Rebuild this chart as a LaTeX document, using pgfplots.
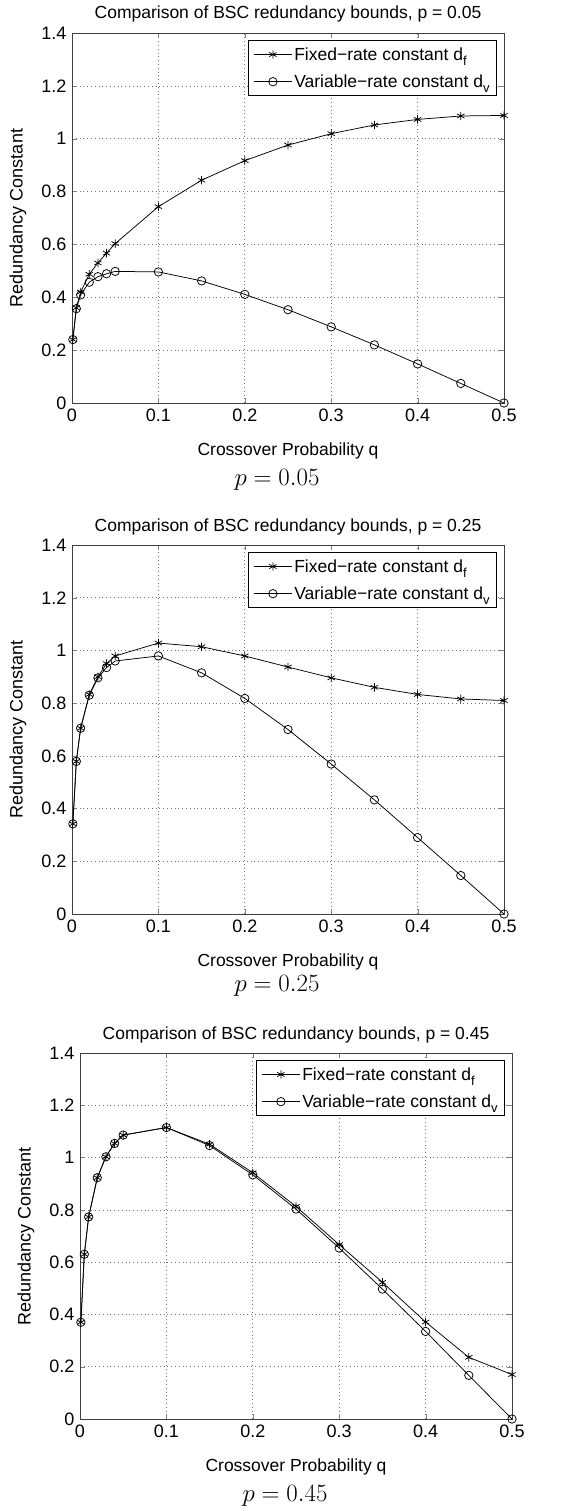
\documentclass[border=0pt]{standalone}
\usepackage{fontspec}
\setmainfont{Liberation Sans}
\usepackage{pgfplots}
\pgfplotsset{compat=1.18}

\newcommand{\fs}{\fontsize{17.5}{21}\selectfont}
\newcommand{\sub}[1]{\raisebox{-5pt}{\fontsize{13}{13}\selectfont #1}}

\pgfplotsset{
  bsc/.style={
    scale only axis, width=432pt,
    xmin=0, xmax=0.5, ymin=0, ymax=1.4,
    xtick={0,0.1,...,0.5}, ytick={0,0.2,...,1.4},
    /pgf/number format/assume math mode=true,
    /pgf/number format/fixed,
    tick label style={font=\fontsize{18}{21}\selectfont},
    yticklabel style={xshift=-2pt},
    xticklabel style={yshift=-2pt},
    tick align=inside, tick pos=both, major tick length=5pt,
    axis line style={black!75, line width=0.9pt},
    grid=major,
    major grid style={black!55, line width=0.7pt, dash pattern=on 0.8pt off 3pt},
    title style={font=\fs, at={(axis description cs:0.5,1)}, anchor=base, yshift=8pt},
    xlabel style={font=\fs, at={(axis description cs:0.5,0)}, anchor=base, yshift=-52pt},
    ylabel style={font=\fontsize{18}{21}\selectfont, at={(axis description cs:-0.125,0.5)}, anchor=center},
    xlabel={Crossover Probability q},
    ylabel={Redundancy Constant},
    legend style={at={(axis description cs:0.984,0.981)}, anchor=north east,
      font=\fs, draw=black, line width=0.8pt, inner xsep=5pt, inner ysep=5pt,
      row sep=9pt, cells={anchor=west}},
    legend image code/.code={\draw[mark repeat=2,mark phase=2,#1]
      plot coordinates {(0pt,0pt)(19pt,0pt)(38pt,0pt)};},
  },
  fixd/.style={black, line width=0.75pt, mark=asterisk, mark size=4.2pt, mark options={line width=0.75pt}},
  varr/.style={black, line width=0.75pt, mark=o, mark size=4.2pt, mark options={line width=0.75pt}},
}
\tikzset{captxt/.style={font=\fontsize{24}{28}\selectfont, anchor=base}}

\begin{document}
\begin{tikzpicture}
\useasboundingbox (0pt,0pt) rectangle (569pt,-1511pt);

% p = 0.05
\begin{axis}[bsc, height=370pt, at={(72pt,-403pt)}, anchor=south west,
  title={Comparison of BSC redundancy bounds, p = 0.05}]
\addplot[fixd] coordinates {(0.001,0.24) (0.005,0.36) (0.01,0.42) (0.02,0.487) (0.03,0.53)
  (0.04,0.567) (0.05,0.603) (0.1,0.743) (0.15,0.843) (0.2,0.917) (0.25,0.976)
  (0.3,1.019) (0.35,1.052) (0.4,1.073) (0.45,1.086) (0.5,1.088)};
\addplot[varr] coordinates {(0.001,0.24) (0.005,0.357) (0.01,0.409) (0.02,0.457) (0.03,0.478)
  (0.04,0.489) (0.05,0.498) (0.1,0.496) (0.15,0.462) (0.2,0.411) (0.25,0.353)
  (0.3,0.288) (0.35,0.22) (0.4,0.148) (0.45,0.074) (0.5,0)};
\legend{Fixed−rate constant d\sub{f}, Variable−rate constant d\sub{v}}
\end{axis}
\node[captxt] at (277pt,-485pt) {$p=0.05$};

% p = 0.25
\begin{axis}[bsc, height=369pt, at={(72pt,-914pt)}, anchor=south west,
  title={Comparison of BSC redundancy bounds, p = 0.25}]
\addplot[fixd] coordinates {(0.001,0.342) (0.005,0.579) (0.01,0.705) (0.02,0.833) (0.03,0.90)
  (0.04,0.95) (0.05,0.979) (0.1,1.028) (0.15,1.014) (0.2,0.979) (0.25,0.937)
  (0.3,0.896) (0.35,0.86) (0.4,0.833) (0.45,0.816) (0.5,0.81)};
\addplot[varr] coordinates {(0.001,0.342) (0.005,0.579) (0.01,0.705) (0.02,0.83) (0.03,0.896)
  (0.04,0.935) (0.05,0.96) (0.1,0.979) (0.15,0.915) (0.2,0.818) (0.25,0.70)
  (0.3,0.569) (0.35,0.433) (0.4,0.29) (0.45,0.146) (0.5,0)};
\legend{Fixed−rate constant d\sub{f}, Variable−rate constant d\sub{v}}
\end{axis}
\node[captxt] at (277pt,-991pt) {$p=0.25$};

% p = 0.45
\begin{axis}[bsc, height=366pt, at={(80pt,-1419pt)}, anchor=south west,
  title={Comparison of BSC redundancy bounds, p = 0.45}]
\addplot[fixd] coordinates {(0.001,0.37) (0.005,0.63) (0.01,0.773) (0.02,0.923) (0.03,1.003)
  (0.04,1.054) (0.05,1.086) (0.1,1.115) (0.15,1.051) (0.2,0.942) (0.25,0.813)
  (0.3,0.667) (0.35,0.523) (0.4,0.371) (0.45,0.236) (0.5,0.17)};
\addplot[varr] coordinates {(0.001,0.37) (0.005,0.63) (0.01,0.773) (0.02,0.923) (0.03,1.003)
  (0.04,1.054) (0.05,1.086) (0.1,1.115) (0.15,1.046) (0.2,0.934) (0.25,0.803)
  (0.3,0.654) (0.35,0.497) (0.4,0.335) (0.45,0.167) (0.5,0)};
\legend{Fixed−rate constant d\sub{f}, Variable−rate constant d\sub{v}}
\end{axis}
\node[captxt] at (285pt,-1501pt) {$p=0.45$};
\end{tikzpicture}
\end{document}
